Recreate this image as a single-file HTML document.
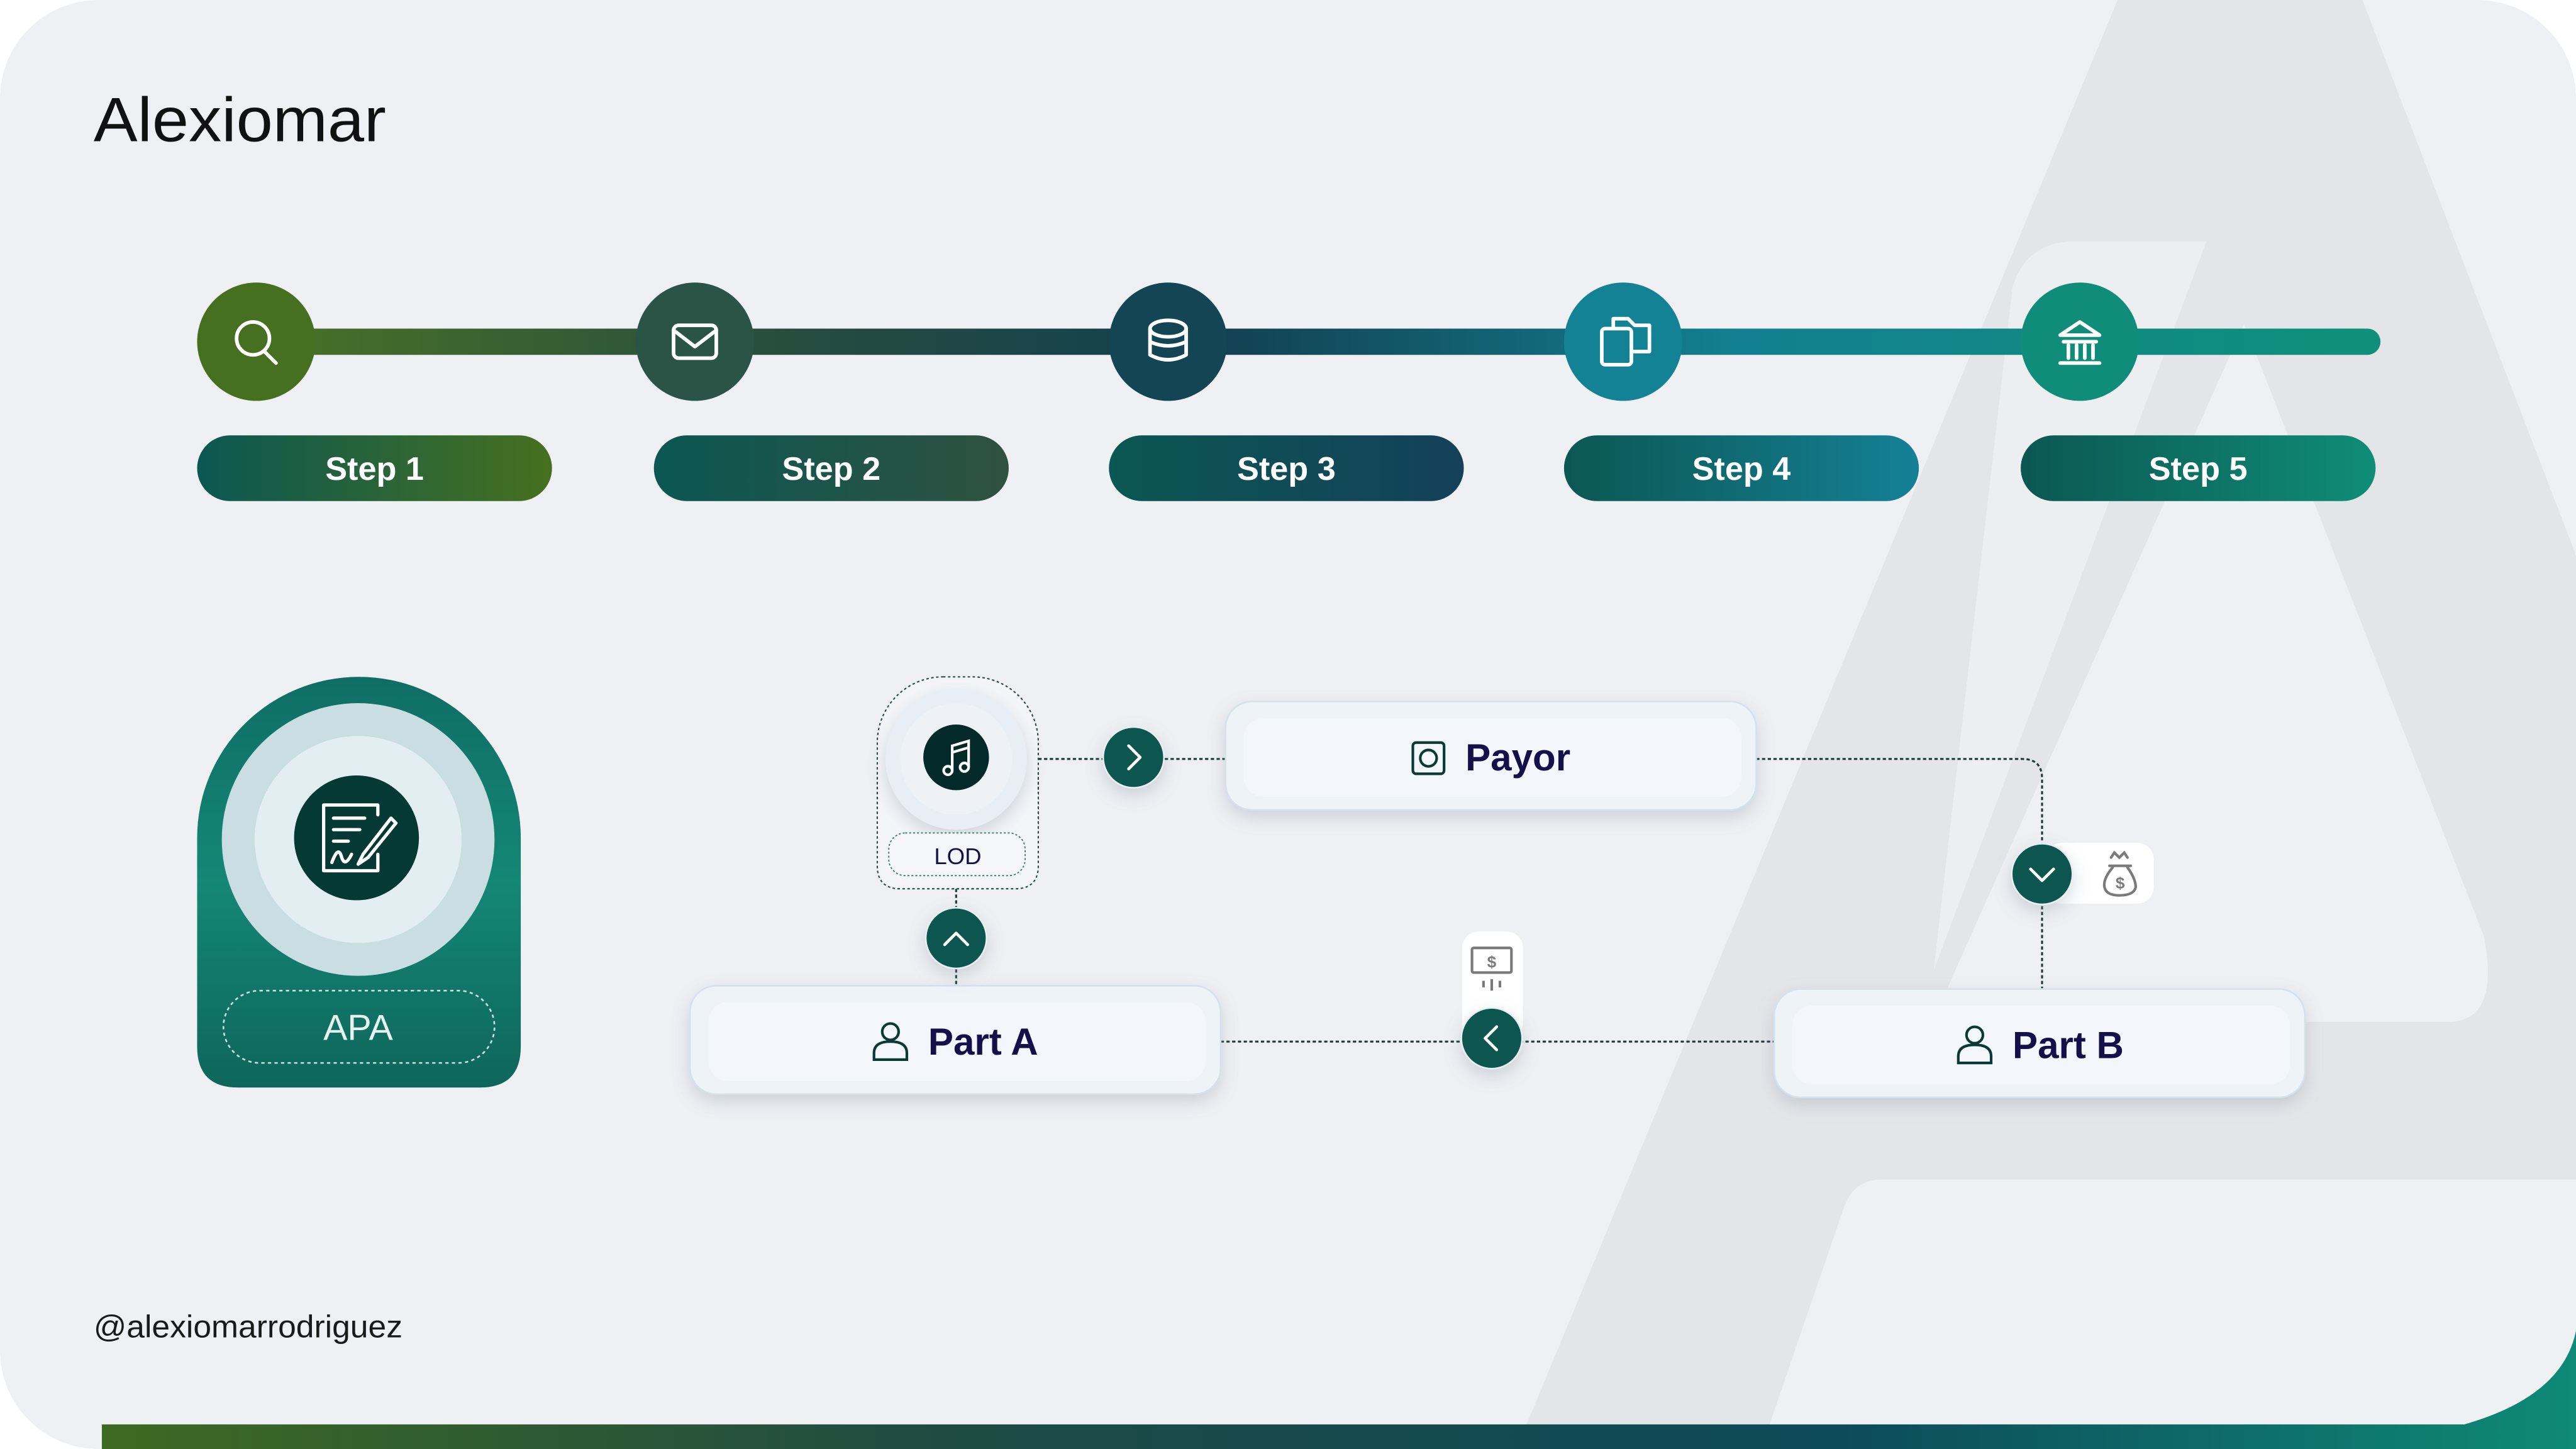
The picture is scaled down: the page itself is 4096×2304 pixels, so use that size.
<!DOCTYPE html>
<html><head><meta charset="utf-8"><style>
html,body{margin:0;padding:0;background:#fff;}
svg{display:block;}
text{font-family:"Liberation Sans",sans-serif;}
</style></head><body>
<svg width="4096" height="2304" viewBox="0 0 1568 882" xmlns="http://www.w3.org/2000/svg">
<defs>
<linearGradient id="bar" x1="0" x2="1"><stop offset="0" stop-color="#3d6a22"/><stop offset="0.35" stop-color="#1e4a44"/><stop offset="0.7" stop-color="#0d4a5a"/><stop offset="1" stop-color="#0e8a76"/></linearGradient>
<linearGradient id="tl" x1="0" x2="1"><stop offset="0" stop-color="#4a7326"/><stop offset="0.25" stop-color="#274d3e"/><stop offset="0.45" stop-color="#123f50"/><stop offset="0.7" stop-color="#128090"/><stop offset="1" stop-color="#10907a"/></linearGradient>
<linearGradient id="p1" x1="0" x2="1"><stop offset="0" stop-color="#0b5752"/><stop offset="1" stop-color="#46701f"/></linearGradient>
<linearGradient id="p2" x1="0" x2="1"><stop offset="0" stop-color="#0b5752"/><stop offset="1" stop-color="#2f5140"/></linearGradient>
<linearGradient id="p3" x1="0" x2="1"><stop offset="0" stop-color="#0b5752"/><stop offset="1" stop-color="#14405a"/></linearGradient>
<linearGradient id="p4" x1="0" x2="1"><stop offset="0" stop-color="#0b5752"/><stop offset="1" stop-color="#148096"/></linearGradient>
<linearGradient id="p5" x1="0" x2="1"><stop offset="0" stop-color="#0b5752"/><stop offset="1" stop-color="#0f8d76"/></linearGradient>
<linearGradient id="apa" x1="0" y1="0" x2="0" y2="1"><stop offset="0" stop-color="#0f6e64"/><stop offset="0.5" stop-color="#148775"/><stop offset="1" stop-color="#0e665a"/></linearGradient>
<filter id="sh" x="-20%" y="-20%" width="140%" height="160%"><feDropShadow dx="0" dy="4" stdDeviation="5" flood-color="#8a98ad" flood-opacity="0.35"/></filter>
<clipPath id="card"><rect x="0" y="0" width="1568" height="882" rx="60"/></clipPath>
</defs>
<rect x="0" y="0" width="1568" height="882" rx="60" fill="#eef0f3"/>
<g clip-path="url(#card)">
<!-- background A -->
<polygon points="1289,0 1438,0 1568,338 1568,882 923,882" fill="#e4e5e8"/>
<path d="M1258,147 L1343,147 L1177,591 L1225,175 Q1232,150 1258,147 Z" fill="#eceef1"/>
<path d="M1366,197 L1512,570 Q1522,622 1490,622 L1200,622 Q1178,622 1186,600 Z" fill="#eef0f3"/>
<path d="M1145,718 L1568,718 L1568,882 L1072,882 L1122,736 Q1128,718 1145,718 Z" fill="#eef0f3"/>
</g>
<!-- bottom bar -->
<path d="M62,867 L1500,867 Q1560,850 1568,810 L1568,882 L62,882 Z" fill="url(#bar)"/>
<text x="57" y="86" font-size="38" fill="#111" textLength="178" lengthAdjust="spacingAndGlyphs">Alexiomar</text>
<text x="57" y="814" font-size="19" fill="#1a1a1a" textLength="188" lengthAdjust="spacingAndGlyphs">@alexiomarrodriguez</text>
<!-- timeline -->
<rect x="150" y="200" width="1299" height="16" rx="8" fill="url(#tl)"/>
<circle cx="156" cy="208" r="36" fill="#46701f"/>
<circle cx="423" cy="208" r="36" fill="#2a5446"/>
<circle cx="711" cy="208" r="36" fill="#134555"/>
<circle cx="988" cy="208" r="36" fill="#138295"/>
<circle cx="1266" cy="208" r="36" fill="#0f8d79"/>
<g fill="none" stroke="#fff" stroke-width="2.2" stroke-linecap="round" stroke-linejoin="round">
<circle cx="154" cy="206" r="10"/><line x1="161" y1="214" x2="168" y2="221"/>
<rect x="410" y="198" width="26" height="20" rx="3"/><path d="M410,201 L423,211 L436,201"/>
<ellipse cx="711" cy="200" rx="11" ry="5"/><path d="M700,200 V216 Q711,222 722,216 V200 M700,208 Q711,213 722,208"/>
<rect x="975" y="200" width="18" height="22" rx="2"/><path d="M982,200 V194 H991 L995,198 H1004 V214 H993"/>
<path d="M1254,204 L1266,196 L1278,204 Z M1256,208 H1276 M1259,210 V218 M1264,210 V218 M1269,210 V218 M1274,210 V218 M1254,221 H1278"/>
</g>
<!-- step pills -->
<g font-size="20" font-weight="bold" fill="#fff" text-anchor="middle">
<rect x="120" y="265" width="216" height="40" rx="20" fill="url(#p1)"/><text x="228" y="292">Step 1</text>
<rect x="398" y="265" width="216" height="40" rx="20" fill="url(#p2)"/><text x="506" y="292">Step 2</text>
<rect x="675" y="265" width="216" height="40" rx="20" fill="url(#p3)"/><text x="783" y="292">Step 3</text>
<rect x="952" y="265" width="216" height="40" rx="20" fill="url(#p4)"/><text x="1060" y="292">Step 4</text>
<rect x="1230" y="265" width="216" height="40" rx="20" fill="url(#p5)"/><text x="1338" y="292">Step 5</text>
</g>
<!-- APA card -->
<path d="M120,510 A98.5,98 0 0 1 317,510 L317,637 Q317,662 292,662 L145,662 Q120,662 120,637 Z" fill="url(#apa)"/>
<circle cx="218" cy="511" r="83" fill="#c9dde3"/>
<circle cx="218" cy="511" r="63" fill="#e2eef1"/>
<circle cx="217" cy="510" r="38" fill="#053a34"/>
<g fill="none" stroke="#fff" stroke-width="2" stroke-linejoin="round" stroke-linecap="round">
<path d="M230,496 V490 H197 V530 H230 V520"/><path d="M203,498 H222 M203,505 H219 M203,512 H212"/><path d="M238,498 L221,520 L218,526 L224,522 L241,501 Z"/><path d="M202,525 Q206,514 208,522 Q210,528 214,520"/>
</g>
<rect x="136" y="603" width="165" height="44" rx="22" fill="none" stroke="#c9e2df" stroke-width="1" stroke-dasharray="2,2"/>
<text x="218" y="633" font-size="22" fill="#e6f2f0" text-anchor="middle">APA</text>
<!-- connectors -->
<g fill="none" stroke="#1d3b3a" stroke-width="1.2" stroke-dasharray="2,1.5">
<line x1="632" y1="462" x2="746" y2="462"/>
<path d="M1069,462 H1231 Q1243,462 1243,474 V602"/>
<line x1="743" y1="634" x2="1080" y2="634"/>
<line x1="582" y1="541" x2="582" y2="600"/>
</g>
<!-- LOD group -->
<rect x="534" y="412" width="98" height="129" rx="40" fill="#f3f5f8" stroke="#2a4a48" stroke-width="0.8" stroke-dasharray="1.5,1.5"/>
<rect x="534" y="470" width="98" height="71" rx="14" fill="#f3f5f8" stroke="none"/>
<path d="M534,470 V527 Q534,541 548,541 H618 Q632,541 632,527 V470" fill="none" stroke="#2a4a48" stroke-width="0.8" stroke-dasharray="1.5,1.5"/>
<circle cx="582" cy="462" r="43" fill="#e8eef5" filter="url(#sh)"/>
<circle cx="582" cy="462" r="34" fill="#eef2f7"/>
<circle cx="582" cy="461" r="20" fill="#032a28"/>
<g fill="none" stroke="#fff" stroke-width="1.6"><circle cx="577" cy="469" r="2.6"/><circle cx="587" cy="467" r="2.6"/><path d="M579.6,469 V454 L589.6,451 V467 M579.6,458 L589.6,455"/></g>
<rect x="541" y="507" width="83" height="26" rx="10" fill="#f4f6f9" stroke="#3a7a70" stroke-width="0.7" stroke-dasharray="1.2,1.2"/>
<text x="583" y="526" font-size="14" fill="#14114a" text-anchor="middle">LOD</text>
<!-- boxes -->
<g filter="url(#sh)">
<rect x="746" y="427" width="323" height="66" rx="16" fill="#eef3f8" stroke="#d5e1ec"/>
<rect x="420" y="600" width="323" height="66" rx="16" fill="#eef3f8" stroke="#d5e1ec"/>
<rect x="1080" y="602" width="323" height="66" rx="16" fill="#eef3f8" stroke="#d5e1ec"/>
</g>
<rect x="757" y="437" width="303" height="48" rx="12" fill="#f3f6fa"/>
<rect x="431" y="610" width="303" height="48" rx="12" fill="#f3f6fa"/>
<rect x="1091" y="612" width="303" height="48" rx="12" fill="#f3f6fa"/>
<g font-size="23" font-weight="bold" fill="#14114a">
<text x="892" y="469">Payor</text><text x="565" y="642">Part A</text><text x="1225" y="644">Part B</text>
</g>
<g fill="none" stroke="#0b3a36" stroke-width="1.6">
<rect x="860" y="452" width="19" height="19" rx="2"/><circle cx="869.5" cy="461.5" r="5"/>
<circle cx="542" cy="628" r="5"/><path d="M532,645 V641 Q532,634 542,634 Q552,634 552,641 V645 Z"/>
<circle cx="1202" cy="630" r="5"/><path d="M1192,647 V643 Q1192,636 1202,636 Q1212,636 1212,643 V647 Z"/>
</g>
<!-- money box + bag -->
<rect x="890" y="567" width="37" height="66" rx="10" fill="#fff"/>
<g fill="none" stroke="#7a7a7a" stroke-width="1.6"><rect x="896" y="577" width="24" height="15" rx="1"/><path d="M903,597 V601 M908,596 V603 M913,597 V601"/></g>
<text x="908" y="589" font-size="10" font-weight="bold" fill="#7a7a7a" text-anchor="middle">$</text>
<rect x="1245" y="513" width="66" height="37" rx="10" fill="#fff"/>
<g fill="none" stroke="#7a7a7a" stroke-width="1.6" stroke-linecap="round"><path d="M1285,522 L1287,519 L1290,522 L1293,519 L1295,522 M1284,527 H1297 M1286,528 Q1280,535 1281,540 Q1282,545 1290,545 Q1299,545 1300,540 Q1300,535 1295,528"/></g>
<text x="1290.5" y="541" font-size="10" font-weight="bold" fill="#7a7a7a" text-anchor="middle">$</text>
<!-- chevron circles -->
<g filter="url(#sh)">
<circle cx="690" cy="461" r="18.5" fill="#0f5450" stroke="#e8eef2" stroke-width="1"/>
<circle cx="582" cy="571" r="18.5" fill="#0f5450" stroke="#e8eef2" stroke-width="1"/>
<circle cx="908" cy="632" r="18.5" fill="#0f5450" stroke="#e8eef2" stroke-width="1"/>
<circle cx="1243" cy="532" r="18.5" fill="#0f5450" stroke="#e8eef2" stroke-width="1"/>
</g>
<g fill="none" stroke="#fff" stroke-width="1.8" stroke-linecap="round" stroke-linejoin="round">
<path d="M687,454 L694,461 L687,468"/><path d="M575,575 L582,568 L589,575"/><path d="M911,625 L904,632 L911,639"/><path d="M1236,529 L1243,536 L1250,529"/>
</g>
</svg>
</body></html>
